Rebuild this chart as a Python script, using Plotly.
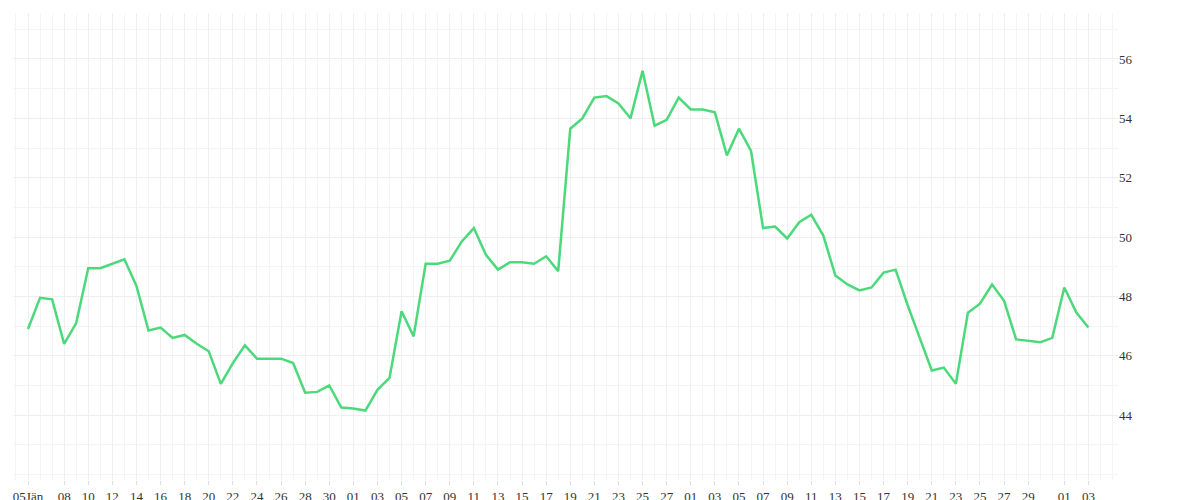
import plotly.graph_objects as go
import pandas as pd

start = "2015-01-05"
values = [46.9,47.95,47.9,46.4,47.1,48.95,48.95,49.1,49.25,48.35,46.85,46.95,46.6,46.7,46.4,46.15,45.05,45.75,46.35,45.9,
          45.9,45.9,45.75,44.75,44.78,45.0,44.25,44.22,44.15,44.85,45.25,47.5,46.65,49.1,49.1,49.2,49.85,50.3,49.4,48.9,
          49.15,49.15,49.1,49.35,48.85,53.65,54.0,54.7,54.75,54.5,54.0,55.6,53.75,53.95,54.7,54.3,54.3,54.2,52.75,53.65,
          52.9,50.3,50.35,49.95,50.5,50.75,50.05,48.7,48.4,48.2,48.3,48.8,48.9,47.7,46.6,45.5,45.6,45.05,47.45,47.75,
          48.4,47.85,46.55,46.5,46.45,46.6,48.3,47.45,46.95]
dates = pd.date_range(start, periods=len(values), freq="D")

tick_dates = ["2015-01-05","2015-01-08","2015-01-10","2015-01-12","2015-01-14","2015-01-16","2015-01-18","2015-01-20",
              "2015-01-22","2015-01-24","2015-01-26","2015-01-28","2015-01-30","2015-02-01","2015-02-03","2015-02-05",
              "2015-02-07","2015-02-09","2015-02-11","2015-02-13","2015-02-15","2015-02-17","2015-02-19","2015-02-21",
              "2015-02-23","2015-02-25","2015-02-27","2015-03-01","2015-03-03","2015-03-05","2015-03-07","2015-03-09",
              "2015-03-11","2015-03-13","2015-03-15","2015-03-17","2015-03-19","2015-03-21","2015-03-23","2015-03-25",
              "2015-03-27","2015-03-29","2015-04-01","2015-04-03"]
tick_text = ["05Jän"] + [d[-2:] for d in tick_dates[1:]]
y_ticks = [44, 46, 48, 50, 52, 54, 56]

fig = go.Figure(go.Scatter(x=dates, y=values, mode="lines",
                           line=dict(color="#4cd97b", width=2.5), hoverinfo="x+y"))
fig.update_layout(
    width=1200, height=500, margin=dict(l=5, r=90, t=5, b=28),
    paper_bgcolor="white", plot_bgcolor="white", showlegend=False,
    font=dict(family="Liberation Serif", size=13, color="#333"),
    xaxis=dict(tickmode="array", tickvals=tick_dates, ticktext=tick_text, tickangle=0,
               range=["2015-01-03 18:07", "2015-04-05 10:55"], showgrid=True, gridcolor="#f0f0f0",
               minor=dict(dtick=86400000, showgrid=True, gridcolor="#f4f4f4"),
               ticks="outside", ticklen=4, tickcolor="#ddd", zeroline=False, showline=False),
    yaxis=dict(side="right", range=[41.81, 57.55], tickvals=y_ticks, showgrid=True, gridcolor="#eeeeee",
               minor=dict(dtick=1, showgrid=True, gridcolor="#f4f4f4"),
               zeroline=False, showline=False, ticks=""),
)
fig.write_html("out.html")
